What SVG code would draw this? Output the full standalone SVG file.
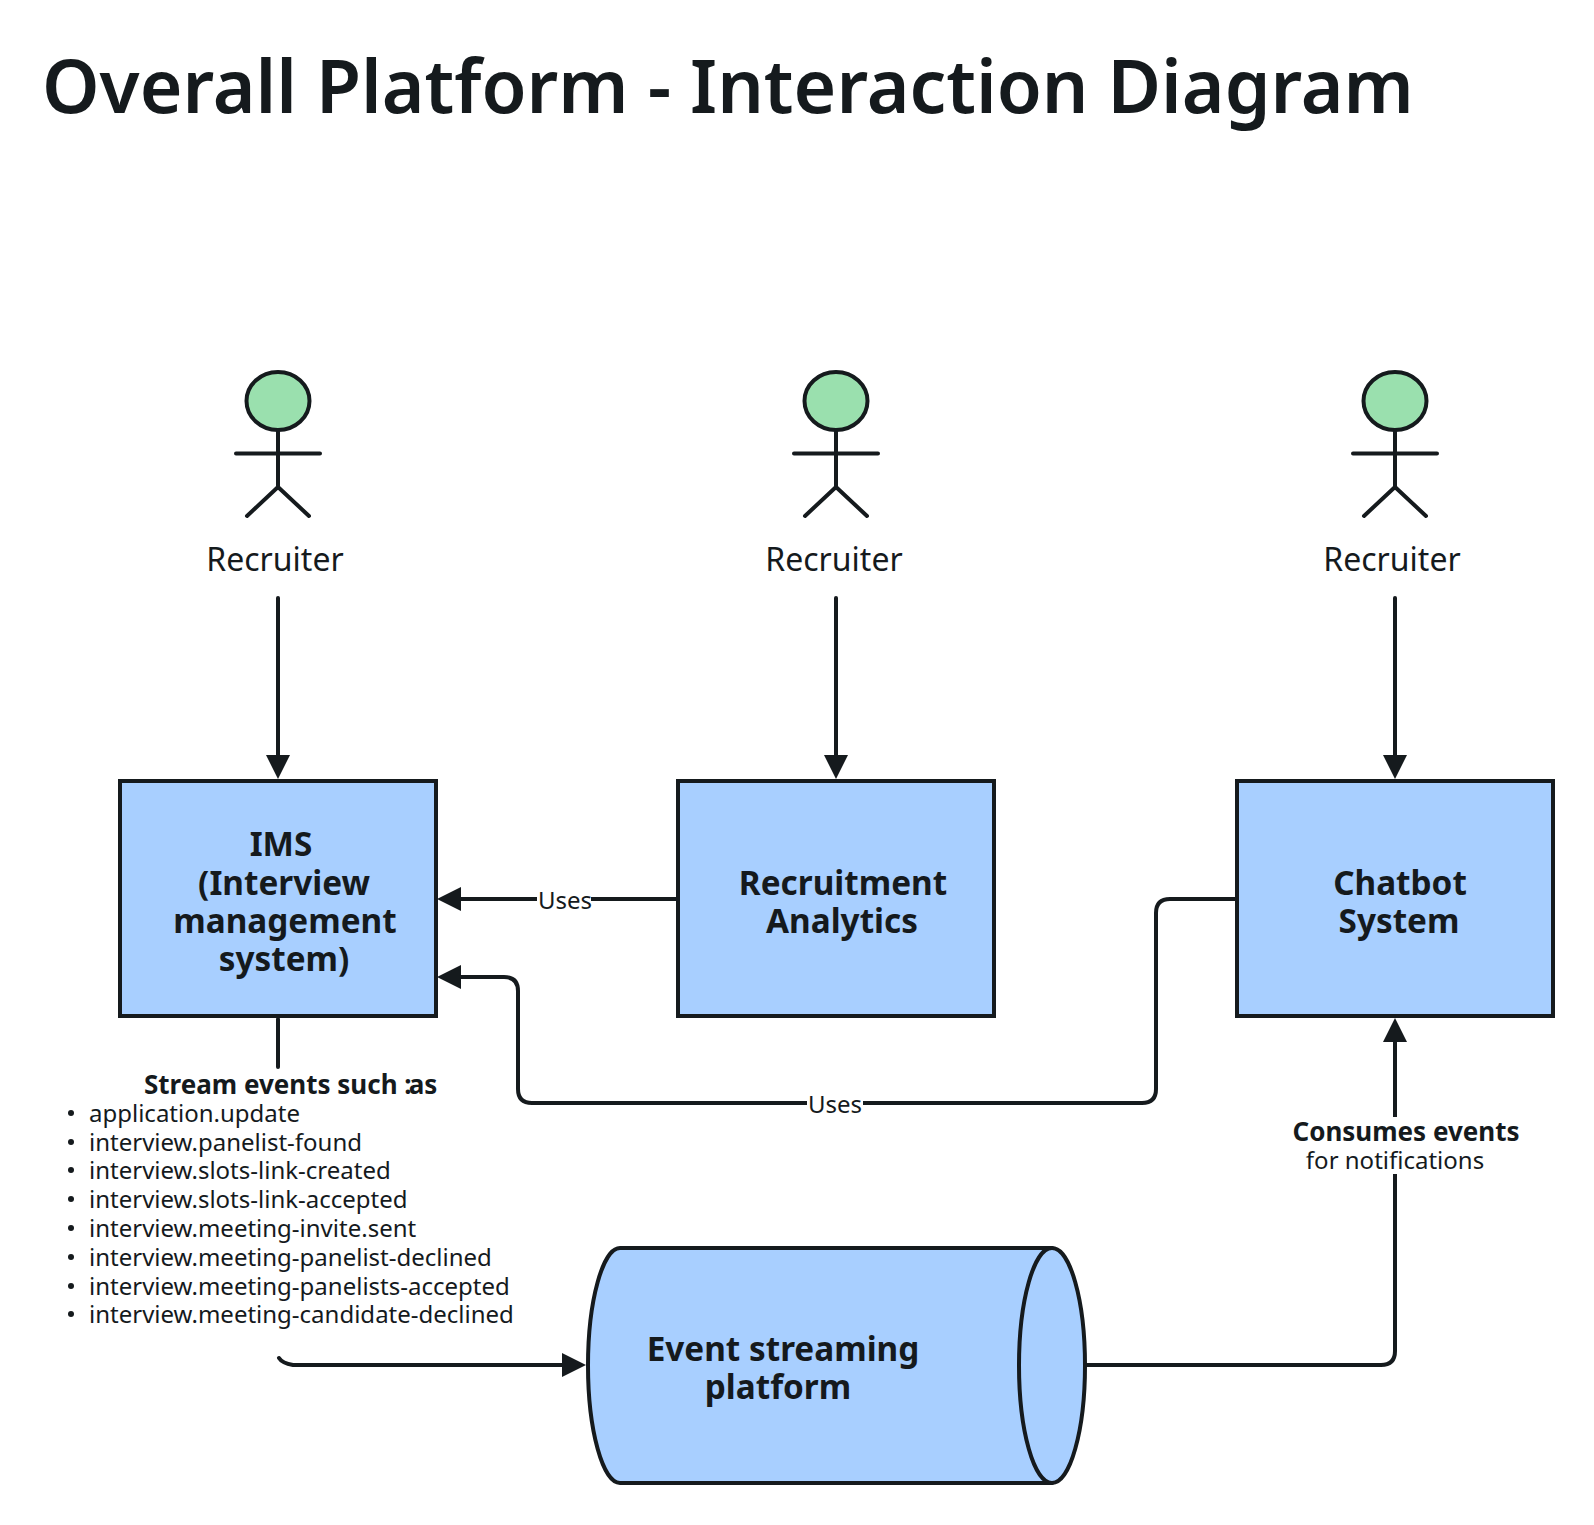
<svg xmlns="http://www.w3.org/2000/svg" width="1594" height="1525" viewBox="0 0 1594 1525">
<style>
text{font-family:"Noto Sans",sans-serif;fill:#151a1d}
.t{font-size:73.200px;font-weight:600}
.a{font-size:32px;text-anchor:middle}
.n{font-size:33.300px;font-weight:700;text-anchor:middle}
.s{font-size:24px}
.b{font-size:26px;font-weight:700}
.m{text-anchor:middle}
.box{fill:#a8cfff;stroke:#151a1d;stroke-width:4}
.l{fill:none;stroke:#151a1d;stroke-width:4;stroke-linecap:round;stroke-linejoin:round}
.lb{fill:#fff;stroke:none}
</style>
<defs>
<marker id="arr" markerUnits="userSpaceOnUse" markerWidth="26" markerHeight="26" refX="4" refY="12" orient="auto"><path d="M0 0L24 12L0 24Z" fill="#151a1d"/></marker>
<g id="stick"><ellipse cx="278" cy="401" rx="31.500" ry="29" fill="#9ae0ae" stroke="#151a1d" stroke-width="4"/><path class="l" d="M278 430V487M236 453.500H320M278 487L247 516M278 487L309 516"/></g>
</defs>
<rect width="1594" height="1525" fill="#fff"/>
<text class="t" x="42" y="113">Overall Platform - Interaction Diagram</text>
<g id="connectors">
<path class="l" d="M278 598V759" marker-end="url(#arr)"/>
<path class="l" d="M836 598V759" marker-end="url(#arr)"/>
<path class="l" d="M1395 598V759" marker-end="url(#arr)"/>
<path class="l" d="M677 899H457" marker-end="url(#arr)"/>
<path class="l" d="M1236 899H1170Q1156 899 1156 913V1089Q1156 1103 1142 1103H532Q518 1103 518 1089V991Q518 977 504 977H457" marker-end="url(#arr)"/>
<path class="l" d="M278 1019V1067"/>
<path class="l" d="M279 1358Q282 1363 293 1365H566" marker-end="url(#arr)"/>
<path class="l" d="M1086 1365H1381Q1395 1365 1395 1351V1038" marker-end="url(#arr)"/>
<rect class="lb" x="537" y="884" width="54" height="30"/>
<rect class="lb" x="807" y="1088" width="56" height="30"/>
<rect class="lb" x="1290" y="1117" width="230" height="57"/>
</g>
<text class="s m" x="565" y="909">Uses</text>
<text class="s m" x="835" y="1113">Uses</text>
<g id="stream-label">
<text class="b" x="144" y="1094">Stream events such :<tspan dx="-3">as</tspan></text>
<text class="s" x="89" y="1122">application.update</text>
<text class="s" x="89" y="1151">interview.panelist-found</text>
<text class="s" x="89" y="1179">interview.slots-link-created</text>
<text class="s" x="89" y="1208">interview.slots-link-accepted</text>
<text class="s" x="89" y="1237">interview.meeting-invite.sent</text>
<text class="s" x="89" y="1266">interview.meeting-panelist-declined</text>
<text class="s" x="89" y="1295">interview.meeting-panelists-accepted</text>
<text class="s" x="89" y="1323">interview.meeting-candidate-declined</text>
<g fill="#151a1d"><circle cx="71" cy="1113" r="3"/><circle cx="71" cy="1142" r="3"/><circle cx="71" cy="1170" r="3"/><circle cx="71" cy="1199" r="3"/><circle cx="71" cy="1228" r="3"/><circle cx="71" cy="1257" r="3"/><circle cx="71" cy="1286" r="3"/><circle cx="71" cy="1314" r="3"/></g>
</g>
<g id="consumes-label">
<text class="b m" x="1406" y="1141">Consumes events</text>
<text class="s m" x="1395" y="1169">for notifications</text>
</g>
<g id="actor-1"><use href="#stick"/><text class="a" x="275" y="571">Recruiter</text></g>
<g id="actor-2"><use href="#stick" x="558"/><text class="a" x="834" y="571">Recruiter</text></g>
<g id="actor-3"><use href="#stick" x="1117"/><text class="a" x="1392" y="571">Recruiter</text></g>
<g id="ims"><rect class="box" x="120" y="781" width="316" height="235"/><text class="n" x="281" y="856">IMS</text><text class="n" x="284" y="895">(Interview</text><text class="n" x="285" y="933">management</text><text class="n" x="284" y="971">system)</text></g>
<g id="analytics"><rect class="box" x="678" y="781" width="316" height="235"/><text class="n" x="843" y="895">Recruitment</text><text class="n" x="842" y="933">Analytics</text></g>
<g id="chatbot"><rect class="box" x="1237" y="781" width="316" height="235"/><text class="n" x="1400" y="895">Chatbot</text><text class="n" x="1399" y="933">System</text></g>
<g id="stream"><path class="l" style="fill:#a8cfff" d="M620 1248H1052C1070 1248 1085 1300 1085 1365.500C1085 1431 1070 1483 1052 1483H620C603 1483 588 1431 588 1365.500C588 1300 603 1248 620 1248Z"/><path class="l" d="M1052 1248C1034 1248 1019 1300 1019 1365.500C1019 1431 1034 1483 1052 1483"/><text class="n" x="783" y="1361">Event streaming</text><text class="n" x="778" y="1399">platform</text></g>
</svg>
